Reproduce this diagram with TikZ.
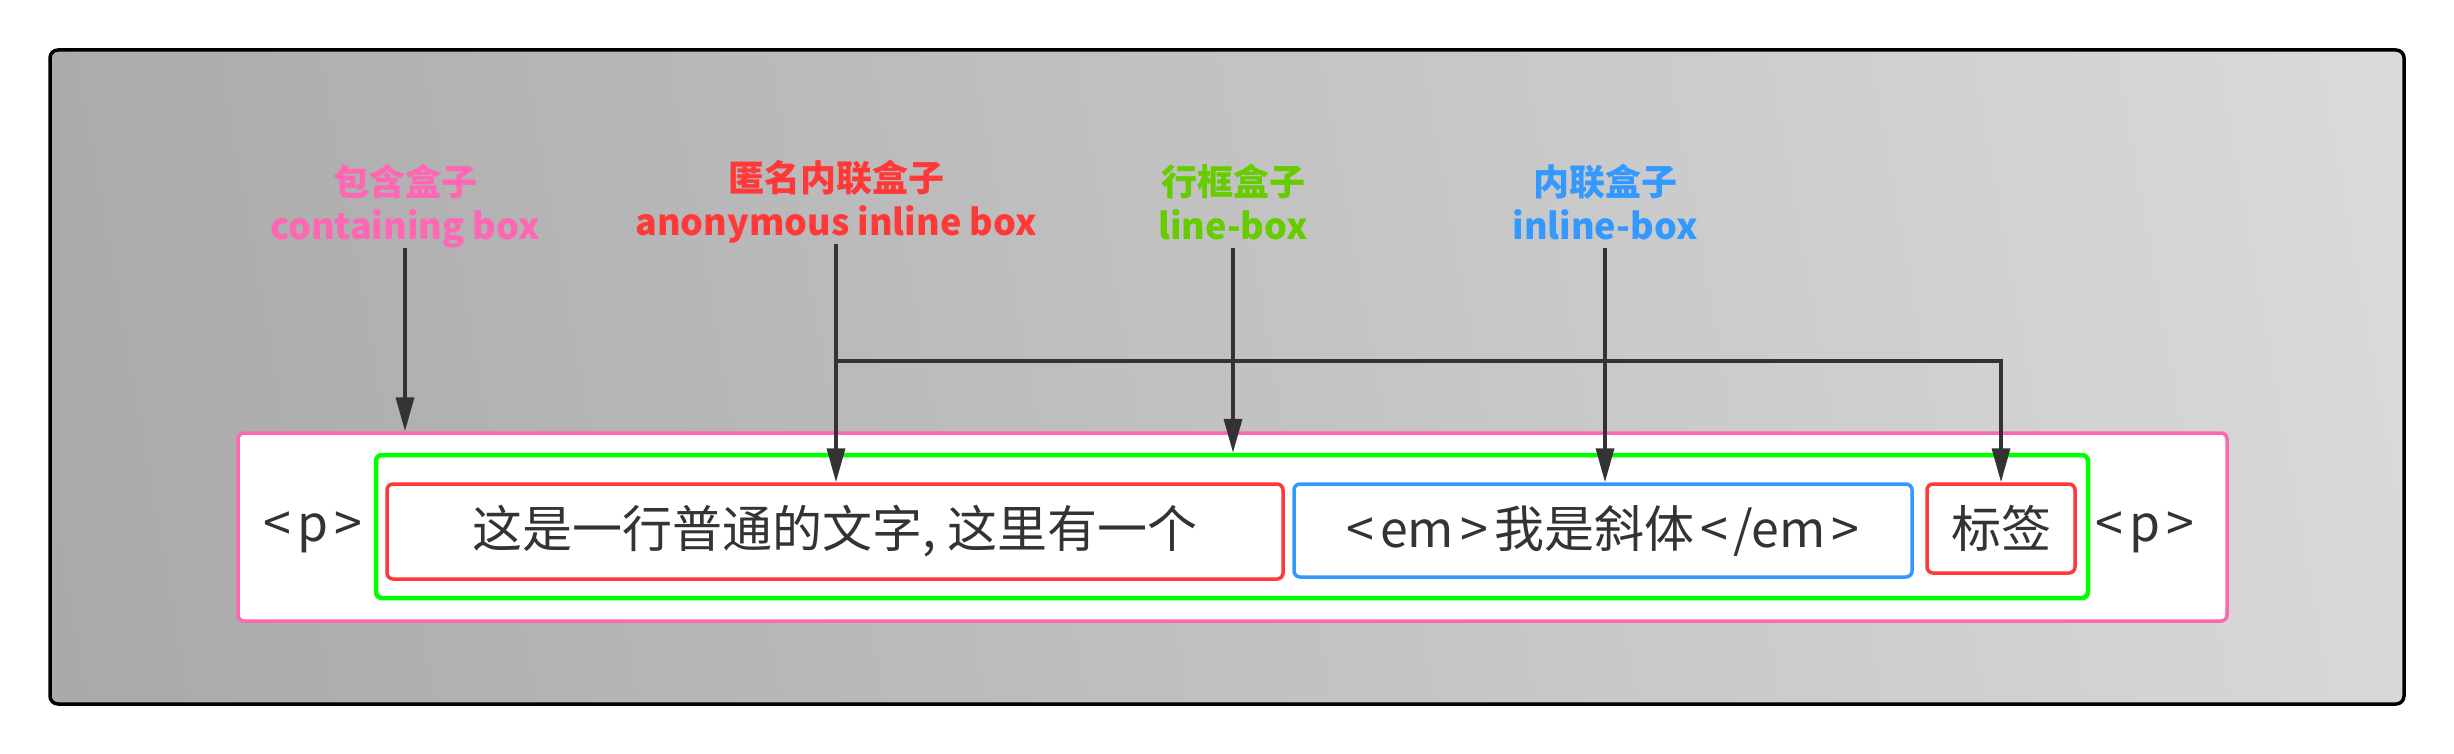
\documentclass[tikz,border=0pt]{standalone}
\usepackage{fontspec}
\newfontfamily\cjk{Noto Sans CJK SC}
\usetikzlibrary{arrows.meta}
\definecolor{pinkc}{HTML}{FF66B3}
\definecolor{redc}{HTML}{FF3838}
\definecolor{greenc}{HTML}{00FF00}
\definecolor{greenl}{HTML}{66CC00}
\definecolor{bluec}{HTML}{3399FF}
\definecolor{txtc}{HTML}{333333}
\definecolor{arrc}{HTML}{333333}
\definecolor{bgdark}{HTML}{979797}
\definecolor{bglight}{HTML}{ECECEC}
\pgfdeclarehorizontalshading{bgsh}{100bp}{color(0bp)=(bgdark); color(100bp)=(bglight)}
\newcommand{\lbr}{\kern6pt<\kern6pt}
\newcommand{\rbr}{\kern6pt>\kern6pt}
\begin{document}
\begin{tikzpicture}[x=1pt,y=-1pt,
  lbl/.style={font=\cjk\bfseries\fontsize{36}{44}\selectfont, align=center, inner sep=0pt, anchor=north},
  boxtxt/.style={font=\cjk\fontsize{50}{60}\selectfont, text=txtc},
  frame/.style={draw, rounded corners=6pt, line width=3.5pt, fill=white, inner sep=0pt},
  arr/.style={draw=arrc, line width=3.5pt, -{Triangle[length=34pt,width=18pt]}},
  ]
\useasboundingbox (0,0) rectangle (2454,754);
% background panel
\shade[shading=bgsh, shading angle=10, rounded corners=8pt] (50,50) rectangle (2404,704);
\draw[black, line width=3.5pt, rounded corners=8pt] (50,50) rectangle (2404,704);

% boxes
\node[frame, draw=pinkc, minimum width=1989pt, minimum height=188pt] (pbox) at (1232.5,527) {};
\node[frame, draw=greenc, line width=4.5pt, minimum width=1712pt, minimum height=143pt] (lbox) at (1232,526.5) {};
\node[frame, draw=redc, minimum width=896pt, minimum height=95pt, boxtxt] (anon) at (835,531.5) {这是一行普通的文字, 这里有一个};
\node[frame, draw=bluec, minimum width=618pt, minimum height=93pt, boxtxt] (inl) at (1603,530.5) {\lbr em\rbr 我是斜体\lbr /em\rbr};
\node[frame, draw=redc, minimum width=148pt, minimum height=89pt, boxtxt] (tag) at (2001,528.5) {标签};
\node[boxtxt, inner sep=0pt] (pl) at (313,532) {\lbr p\rbr};
\node[boxtxt, inner sep=0pt] (pr) at (2145,532) {\lbr p\rbr};

% labels
\node[lbl, text=pinkc] (l1) at (405,164) {包含盒子\\containing box};
\node[lbl, text=redc] (l2) at (836,160) {匿名内联盒子\\anonymous inline box};
\node[lbl, text=greenl] (l3) at (1233,164) {行框盒子\\line-box\vphantom{g}};
\node[lbl, text=bluec] (l4) at (1605,164) {内联盒子\\inline-box\vphantom{g}};

% arrows
\draw[arr] (l1.south) -- (l1.south |- pbox.north);
\draw[arr] (l2.south) -- (l2.south |- anon.north);
\draw[arr] (l3.south) -- (l3.south |- lbox.north);
\draw[arr] (l4.south) -- (l4.south |- inl.north);
\coordinate (br) at (836,361);
\draw[arr] (br) -| (tag.north);
\end{tikzpicture}
\end{document}
